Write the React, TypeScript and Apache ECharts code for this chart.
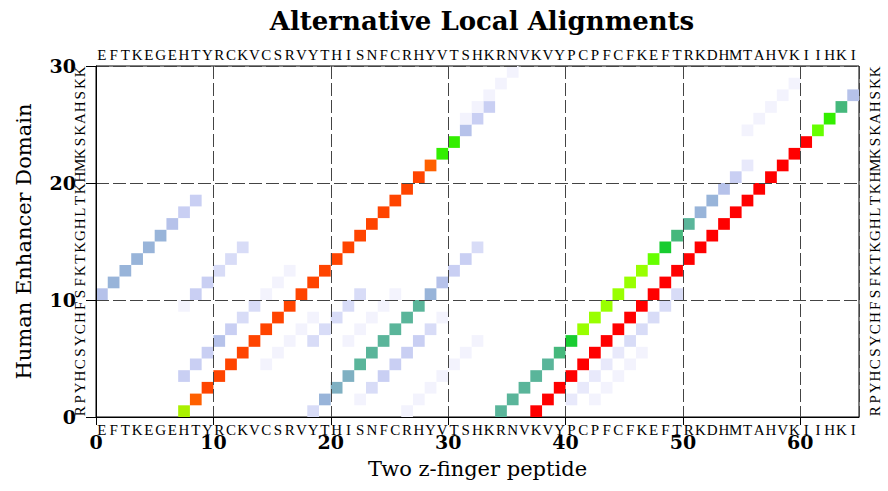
import React, { useEffect, useRef } from "react";
import * as echarts from "echarts";

const peptide = "EFTKEGEHTYRCKVCSRVYTHISNFCRHYVTSHKRNVKVYPCPFCFKEFTRKDHMTAHVKIIHKI".split("");
const enhancer = "RPYHCSYCHFSFKTKGHLTKHMKSKAHSKK".split("");

const xMin = 0;
const xMax = 65;
const yMin = 0;
const yMax = 30;
const tickStep = 10;

// Alignment diagonals: [start x, start y, score level of each successive cell along the diagonal]
const alignments: [number, number, number[]][] = [
  [0, 10, [5, 6, 6, 6, 6, 6, 5, 4, 4]],
  [7, 0, [14, 15, 16, 16, 16, 16, 16, 16, 16, 16, 16, 16, 16, 16, 16, 16, 16, 16, 16, 16, 16, 15, 11, 11, 5, 4, 4]],
  [31, 25, [1, 1, 1, 1, 1]],
  [7, 9, [1, 4, 4, 3, 3, 3]],
  [7, 3, [4, 4, 4, 5, 4, 3, 3, 1, 1, 1]],
  [14, 4, [1, 1, 1, 1, 1]],
  [18, 6, [3, 3, 3, 3, 3]],
  [21, 6, [1, 1, 1, 1, 1]],
  [18, 0, [3, 6, 7, 7, 8, 8, 8, 8, 8, 8, 6, 5, 4, 4, 3]],
  [22, 1, [1, 3, 4, 4, 4, 4, 3, 1]],
  [26, 0, [1, 1, 1, 1, 1, 1, 1]],
  [34, 0, [8, 8, 8, 8, 8, 9, 10, 13, 13, 13, 13, 13, 13, 12, 10, 9, 8, 6, 6, 5, 4, 2]],
  [37, 0, [17, 17, 17, 17, 17, 17, 17, 17, 17, 17, 17, 17, 17, 17, 17, 17, 17, 17, 17, 17, 17, 17, 17, 17, 12, 11, 9, 5]],
  [55, 24, [1, 1, 1, 1, 1]],
  [40, 1, [2, 2, 2, 2, 2, 3, 3, 3, 3, 3]],
  [42, 1, [1, 1, 1, 1, 1]],
];

const levelColors: Record<number, string> = {
  1: "#f3f3fd",
  2: "#e8e9fb",
  3: "#d8dcf7",
  4: "#c9cff3",
  5: "#b6c2ea",
  6: "#98b4d9",
  7: "#7fb0c2",
  8: "#5ab59a",
  9: "#45b87c",
  10: "#18cc30",
  11: "#33ee00",
  12: "#66ff00",
  13: "#99ff00",
  14: "#aaf000",
  15: "#ff6000",
  16: "#ff4400",
  17: "#ff0000",
};

const SERIF = "'Liberation Serif', 'Times New Roman', serif";
const WIDE_SERIF = "'DejaVu Serif', serif";

export default function App() {
  const ref = useRef<HTMLDivElement>(null);

  useEffect(() => {
    if (!ref.current) return;
    const chart = echarts.init(ref.current, undefined, { renderer: "svg" });

    const cells: number[][] = [];
    alignments.forEach(([sx, sy, scores]) => {
      scores.forEach((s, k) => cells.push([sx + k, sy + k, s]));
    });

    const gridLine = { show: true, lineStyle: { color: "#444", width: 1, type: [13, 4] as any } };

    chart.setOption({
      animation: false,
      backgroundColor: "#ffffff",
      title: {
        text: "Alternative Local Alignments",
        left: 477,
        top: 3,
        textAlign: "center",
        textStyle: { fontFamily: WIDE_SERIF, fontWeight: "bold", fontSize: 26, color: "#000" },
      },
      grid: {
        left: 96,
        right: 29,
        top: 66,
        bottom: 74,
        show: true,
        borderColor: "#000",
        borderWidth: 1,
        backgroundColor: "transparent",
      },
      xAxis: [
        {
          type: "value",
          min: xMin,
          max: xMax,
          interval: tickStep,
          position: "bottom",
          z: 10,
          axisLine: { show: true, onZero: false, lineStyle: { color: "#000", width: 1 } },
          axisTick: { show: true, length: 8, lineStyle: { color: "#000" } },
          axisLabel: {
            margin: 15,
            fontFamily: WIDE_SERIF,
            fontWeight: "bold",
            fontSize: 19,
            color: "#000",
            showMaxLabel: false,
          },
          splitLine: gridLine,
          name: "Two z-finger peptide",
          nameLocation: "middle",
          nameGap: 41,
          nameTextStyle: { fontFamily: WIDE_SERIF, fontSize: 21, color: "#000" },
        },
        {
          type: "category",
          data: peptide,
          position: "bottom",
          axisLine: { show: false, onZero: false },
          axisTick: { show: false },
          splitLine: { show: false },
          axisLabel: { interval: 0, margin: 5, fontFamily: SERIF, fontSize: 15, color: "#000" },
        },
        {
          type: "category",
          data: peptide,
          position: "top",
          axisLine: { show: false, onZero: false },
          axisTick: { show: false },
          splitLine: { show: false },
          axisLabel: { interval: 0, margin: 4, fontFamily: SERIF, fontSize: 15, color: "#000" },
        },
      ],
      yAxis: [
        {
          type: "value",
          min: yMin,
          max: yMax,
          interval: tickStep,
          position: "left",
          z: 10,
          axisLine: { show: true, onZero: false, lineStyle: { color: "#000", width: 1 } },
          axisTick: { show: true, length: 10, lineStyle: { color: "#000" } },
          axisLabel: { margin: 20, fontFamily: WIDE_SERIF, fontWeight: "bold", fontSize: 19, color: "#000" },
          splitLine: gridLine,
          name: "Human Enhancer Domain",
          nameLocation: "middle",
          nameGap: 62,
          nameTextStyle: { fontFamily: WIDE_SERIF, fontSize: 21, color: "#000" },
        },
        {
          type: "category",
          data: enhancer,
          position: "left",
          axisLine: { show: false, onZero: false },
          axisTick: { show: false },
          splitLine: { show: false },
          axisLabel: { interval: 0, rotate: 90, margin: 9, fontFamily: SERIF, fontSize: 15, color: "#000" },
        },
        {
          type: "category",
          data: enhancer,
          position: "right",
          axisLine: { show: false, onZero: false },
          axisTick: { show: false },
          splitLine: { show: false },
          axisLabel: { interval: 0, rotate: 90, margin: 8, fontFamily: SERIF, fontSize: 15, color: "#000" },
        },
      ],
      series: [
        {
          type: "custom",
          xAxisIndex: 0,
          yAxisIndex: 0,
          data: cells,
          encode: { x: 0, y: 1 },
          renderItem: (params: any, api: any) => {
            const x = api.value(0);
            const y = api.value(1);
            const lv = api.value(2);
            const p0 = api.coord([x, y + 1]);
            const p1 = api.coord([x + 1, y]);
            return {
              type: "rect",
              shape: { x: p0[0], y: p0[1], width: p1[0] - p0[0], height: p1[1] - p0[1] },
              style: { fill: levelColors[lv] || "#fff" },
            };
          },
        },
      ],
    });

    return () => chart.dispose();
  }, []);

  return <div ref={ref} style={{ width: 888, height: 491, position: "absolute", left: 0, top: 0 }} />;
}
